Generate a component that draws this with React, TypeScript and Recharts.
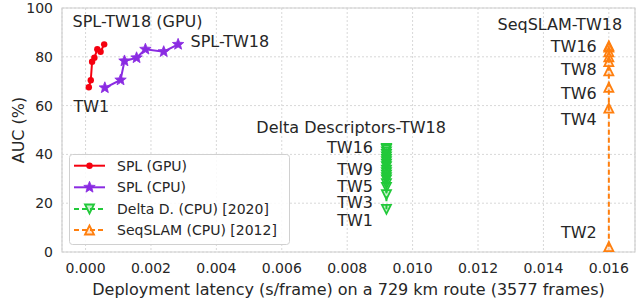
import React from 'react';
import { ScatterChart, Scatter, XAxis, YAxis, CartesianGrid, ReferenceArea } from 'recharts';

const xTicks = [0, 0.002, 0.004, 0.006, 0.008, 0.01, 0.012, 0.014, 0.016];
const yTicks = [0, 20, 40, 60, 80, 100];

const splGpuLatency = [0.0001, 0.00016, 0.0002, 0.00027, 0.00036, 0.00046, 0.00057];
const splGpuAuc = [67.5, 70.4, 78.0, 79.6, 83.1, 82.1, 85.1];

const splCpuLatency = [0.00059, 0.00107, 0.00119, 0.00156, 0.00183, 0.00239, 0.00283];
const splCpuAuc = [67.3, 70.5, 78.3, 79.6, 83.1, 82.1, 85.1];

const deltaLatency = 0.0092;
const deltaAuc = [17.5, 23.5, 26.5, 28, 29.5, 30.5, 31.5, 32.5, 33.5, 35, 36, 37, 38, 39, 40, 41, 42, 42.5];

const seqLatency = 0.016;
const seqAuc = [2.2, 59, 67.5, 74.2, 78, 80, 82, 84, 84.5];

const annoText = ['SPL-TW18 (GPU)', 'SPL-TW18', 'TW1', 'Delta Descriptors-TW18', 'TW16', 'TW9', 'TW5', 'TW3', 'TW1', 'SeqSLAM-TW18', 'TW16', 'TW8', 'TW6', 'TW4', 'TW2'];
const annoX = [0.00159, 0.00321, -0.00037, 0.00812, 0.00879, 0.00879, 0.00879, 0.00879, 0.00879, 0.0145, 0.01563, 0.01563, 0.01563, 0.01563, 0.01563];
const annoY = [94.3, 86.1, 59.8, 51.2, 43.0, 34.0, 27.0, 20.1, 13.1, 93.4, 84.4, 74.6, 64.8, 54.5, 7.8];
const annoAnchor = ['middle', 'start', 'start', 'middle', 'end', 'end', 'end', 'end', 'end', 'middle', 'end', 'end', 'end', 'end', 'end'];

const legendNames = ['SPL (GPU)', 'SPL (CPU)', 'Delta D. (CPU) [2020]', 'SeqSLAM (CPU) [2012]'];

const RED = '#f5000f';
const PURPLE = '#8a2be2';
const GREEN = '#22c93a';
const ORANGE = '#ff7f0e';
const FONT = 'DejaVu Sans, sans-serif';

const splGpu = splGpuLatency.map((x, i) => ({ x, y: splGpuAuc[i] }));
const splCpu = splCpuLatency.map((x, i) => ({ x, y: splCpuAuc[i] }));
const delta = deltaAuc.map((y) => ({ x: deltaLatency, y }));
const seq = seqAuc.map((y) => ({ x: seqLatency, y }));
const annos = annoText.map((t, i) => ({ x: annoX[i], y: annoY[i], text: t, anchor: annoAnchor[i] }));

function starPath(cx: number, cy: number, R: number, r: number) {
  let d = '';
  for (let i = 0; i < 10; i++) {
    const a = -Math.PI / 2 + (i * Math.PI) / 5;
    const rad = i % 2 === 0 ? R : r;
    d += (i === 0 ? 'M' : 'L') + (cx + rad * Math.cos(a)).toFixed(2) + ',' + (cy + rad * Math.sin(a)).toFixed(2);
  }
  return d + 'Z';
}

const Circle = (p: any) => <circle cx={p.cx} cy={p.cy} r={3.2} fill={RED} />;
const Star = (p: any) => <path d={starPath(p.cx, p.cy, 6, 2.6)} fill={PURPLE} stroke={PURPLE} strokeWidth={0.8} />;
const TriDown = (p: any) => {
  const s = 4.5;
  return <path d={`M${p.cx - s},${p.cy - s}L${p.cx + s},${p.cy - s}L${p.cx},${p.cy + s}Z`} fill="rgba(34,201,58,0.25)" stroke={GREEN} strokeWidth={1.8} />;
};
const TriUp = (p: any) => {
  const s = 4.5;
  return <path d={`M${p.cx},${p.cy - s}L${p.cx - s},${p.cy + s}L${p.cx + s},${p.cy + s}Z`} fill="rgba(255,127,14,0.2)" stroke={ORANGE} strokeWidth={1.8} />;
};
const Anno = (p: any) => {
  const d = p.payload || p;
  return (
    <text x={p.cx} y={p.cy} textAnchor={d.anchor} dominantBaseline="central" fontFamily={FONT} fontSize={16} fill="#262626">
      {d.text}
    </text>
  );
};

const LegendBox = () => {
  const rows = [11.7, 33.3, 55, 76];
  const colors = [RED, PURPLE, GREEN, ORANGE];
  return (
    <svg width={221} height={91} style={{ display: 'block' }}>
      <rect x={0.5} y={0.5} width={220} height={90} rx={3} fill="rgba(255,255,255,0.85)" stroke="#d0d0d0" />
      {rows.map((ry, i) => {
        const c = colors[i];
        const dashed = i >= 2;
        const mx = 20.5;
        let marker: any = null;
        if (i === 0) marker = <circle cx={mx} cy={ry} r={3.2} fill={c} />;
        if (i === 1) marker = <path d={starPath(mx, ry, 6, 2.6)} fill={c} stroke={c} strokeWidth={0.8} />;
        if (i === 2) marker = <path d={`M${mx - 4.5},${ry - 4.5}L${mx + 4.5},${ry - 4.5}L${mx},${ry + 4.5}Z`} fill="rgba(34,201,58,0.25)" stroke={c} strokeWidth={1.8} />;
        if (i === 3) marker = <path d={`M${mx},${ry - 4.5}L${mx - 4.5},${ry + 4.5}L${mx + 4.5},${ry + 4.5}Z`} fill="rgba(255,127,14,0.2)" stroke={c} strokeWidth={1.8} />;
        return (
          <g key={i}>
            <line x1={5} x2={36} y1={ry} y2={ry} stroke={c} strokeWidth={2} strokeDasharray={dashed ? '5 3' : undefined} />
            {marker}
            <text x={48} y={ry} dominantBaseline="central" fontFamily={FONT} fontSize={14} fill="#262626">
              {legendNames[i]}
            </text>
          </g>
        );
      })}
    </svg>
  );
};

export default function App() {
  return (
    <div style={{ position: 'absolute', left: 0, top: 0, width: 640, height: 301, background: '#fff' }}>
      <ScatterChart width={640} height={301} margin={{ top: 8, right: 5, bottom: 0, left: 0 }}>
        <CartesianGrid stroke="#d8d8d8" strokeDasharray="2 2" />
        <XAxis
          type="number"
          dataKey="x"
          domain={[-0.00072, 0.0168]}
          ticks={xTicks}
          tickFormatter={(v: number) => v.toFixed(3)}
          allowDataOverflow
          height={49}
          axisLine={false}
          tickLine={false}
          tickSize={0}
          tickMargin={11}
          tick={{ fontFamily: FONT, fontSize: 14, fill: '#262626' }}
          label={(props: any) => {
            const vb = props.viewBox || {};
            return (
              <text x={vb.x + vb.width / 2} y={289} textAnchor="middle" dominantBaseline="central" fontFamily={FONT} fontSize={16} fill="#262626">
                Deployment latency (s/frame) on a 729 km route (3577 frames)
              </text>
            );
          }}
        />
        <YAxis
          type="number"
          dataKey="y"
          domain={[0, 100]}
          ticks={yTicks}
          allowDataOverflow
          width={62}
          axisLine={false}
          tickLine={false}
          tickSize={0}
          tickMargin={9}
          tick={{ fontFamily: FONT, fontSize: 14, fill: '#262626' }}
          label={(props: any) => {
            const vb = props.viewBox || {};
            const cy = vb.y + vb.height / 2;
            return (
              <text x={18} y={cy} transform={`rotate(-90, 18, ${cy})`} textAnchor="middle" dominantBaseline="central" fontFamily={FONT} fontSize={16} fill="#262626">
                AUC (%)
              </text>
            );
          }}
        />
        <ReferenceArea x1={-0.00072} x2={0.0168} y1={0} y2={100} fill="none" stroke="#d0d0d0" strokeWidth={1.2} />
        <Scatter data={splGpu} line={{ stroke: RED, strokeWidth: 2 }} lineType="joint" shape={Circle} isAnimationActive={false} />
        <Scatter data={splCpu} line={{ stroke: PURPLE, strokeWidth: 2 }} lineType="joint" shape={Star} isAnimationActive={false} />
        <Scatter data={delta} line={{ stroke: GREEN, strokeWidth: 2, strokeDasharray: '5 3' }} lineType="joint" shape={TriDown} isAnimationActive={false} />
        <Scatter data={seq} line={{ stroke: ORANGE, strokeWidth: 2, strokeDasharray: '5 3' }} lineType="joint" shape={TriUp} isAnimationActive={false} />
        <Scatter data={annos} shape={Anno} isAnimationActive={false} />
      </ScatterChart>
      <div style={{ position: 'absolute', left: 69, top: 154 }}>
        <LegendBox />
      </div>
    </div>
  );
}
